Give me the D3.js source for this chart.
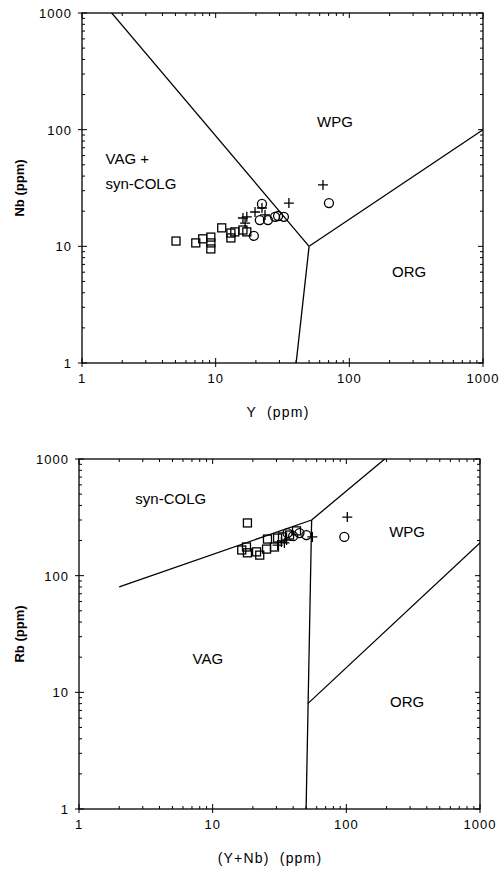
<!DOCTYPE html>
<html>
<head>
    <title>Nb-Y and Rb-(Y+Nb) discrimination diagrams</title>
    <script src="https://d3js.org/d3.v7.min.js"></script>
</head>
<body style="margin:0;background:#fff">
    <script>
        const [width, height] = [501, 874]

        // axis ticks (log decades)
        const decadeTicks = [1, 10, 100, 1000];

        // Nb vs Y diagram: samples [Y, Nb]
        const nbSquares = [[5.05, 11.1], [7.1, 10.7], [8.0, 11.6], [9.2, 12.0], [9.2, 10.7], [9.2, 9.5],
            [11.1, 14.4], [13.0, 13.0], [13.0, 11.8], [13.9, 13.3], [16.0, 13.8], [17.1, 13.3]];
        const nbCircles = [[19.3, 12.3], [22.2, 23.1], [21.4, 16.8], [24.6, 16.8], [27.8, 17.9],
            [29.3, 18.2], [32.4, 17.9], [70.4, 23.5]];
        const nbPluses = [[63.5, 33.6], [35.3, 23.5], [22.2, 21.3], [16.0, 17.5], [16.6, 15.8],
            [19.7, 19.7], [17.1, 17.9], [23.4, 18.6]];
        const nbBoundaries = [
            [[1, 2000], [50, 10]],
            [[50, 10], [1000, 100]],
            [[50, 10], [40, 1]]
        ];
        const nbFields = [
            {text: "WPG", x: 78, y: 114, anchor: "middle"},
            {text: "VAG +", x: 1.5, y: 55, anchor: "start"},
            {text: "syn-COLG", x: 1.5, y: 33.6, anchor: "start"},
            {text: "ORG", x: 280, y: 5.9, anchor: "middle"}
        ];

        // Rb vs (Y+Nb) diagram: samples [Y+Nb, Rb]
        const rbSquares = [[18.2, 283], [16.5, 166], [17.9, 176], [18.2, 157], [21.3, 160], [25.3, 169],
            [25.7, 206], [29.0, 176], [30.6, 210], [33.3, 215], [37.6, 223], [42.4, 242], [22.5, 150]];
        const rbCircles = [[36.3, 232], [44.6, 232], [50.3, 223], [96.6, 215], [40.0, 218]];
        const rbPluses = [[55.7, 215], [32.7, 194], [35.7, 202], [30.6, 183], [101.7, 318], [34.4, 191]];
        const rbBoundaries = [
            [[2, 80], [55, 300]],
            [[55, 300], [400, 2000]],
            [[55, 300], [50, 1]],
            [[51.5, 8], [2000, 400]]
        ];
        const rbFields = [
            {text: "syn-COLG", x: 4.86, y: 445, anchor: "middle"},
            {text: "WPG", x: 285, y: 232, anchor: "middle"},
            {text: "VAG", x: 9.2, y: 19, anchor: "middle"},
            {text: "ORG", x: 285, y: 8.1, anchor: "middle"}
        ];

        const svg = d3.select("body")
            .append("svg")
            .attr("width", width)
            .attr("height", height)
            .style("font-family", "'Liberation Sans', Arial, sans-serif");

        function drawPanel(opt) {
            const x = d3.scaleLog().domain([1, 1000]).range([opt.left, opt.right]);
            const y = d3.scaleLog().domain([1, 1000]).range([opt.bottom, opt.top]);
            const g = svg.append("g");

            const clipId = "clip-" + opt.id;
            g.append("clipPath").attr("id", clipId)
                .append("rect")
                .attr("x", opt.left).attr("y", opt.top)
                .attr("width", opt.right - opt.left).attr("height", opt.bottom - opt.top);

            // frame
            g.append("rect")
                .attr("x", opt.left).attr("y", opt.top)
                .attr("width", opt.right - opt.left).attr("height", opt.bottom - opt.top)
                .style("fill", "none").style("stroke", "#000").style("stroke-width", 1.3);

            // ticks on all four sides
            const allTicks = x.ticks();
            const isMajor = v => Math.abs(Math.log10(v) - Math.round(Math.log10(v))) < 1e-6;
            allTicks.forEach(v => {
                const len = isMajor(v) ? 5 : 3;
                g.append("line").attr("x1", x(v)).attr("x2", x(v))
                    .attr("y1", opt.bottom + (isMajor(v) ? 4 : 0)).attr("y2", opt.bottom - len);
                g.append("line").attr("x1", opt.left - (isMajor(v) ? 4 : 0)).attr("x2", opt.left + len)
                    .attr("y1", y(v)).attr("y2", y(v));
                g.append("line").attr("x1", opt.right).attr("x2", opt.right - len)
                    .attr("y1", y(v)).attr("y2", y(v));
                g.append("line").attr("x1", x(v)).attr("x2", x(v))
                    .attr("y1", opt.top).attr("y2", opt.top + len);
            });
            g.selectAll("line").style("stroke", "#000").style("stroke-width", 1);

            // tick labels
            g.selectAll(".xl").data(decadeTicks).enter().append("text")
                .attr("x", d => x(d)).attr("y", opt.bottom + 20)
                .attr("text-anchor", "middle")
                .style("font-size", "13px").style("letter-spacing", "1px")
                .text(d => d);
            g.selectAll(".yl").data(decadeTicks).enter().append("text")
                .attr("x", opt.left - 10).attr("y", d => y(d) + 5)
                .attr("text-anchor", "end")
                .style("font-size", "13px").style("letter-spacing", "1px")
                .text(d => d);

            // axis titles
            g.append("text")
                .attr("x", opt.xTitleX).attr("y", opt.bottom + 54)
                .attr("text-anchor", "middle")
                .style("font-size", "14px").style("letter-spacing", "1.2px")
                .style("white-space", "pre")
                .text(opt.xTitle);
            g.append("text")
                .attr("transform", `translate(24,${(opt.top + opt.bottom) / 2}) rotate(-90)`)
                .attr("text-anchor", "middle")
                .style("font-size", "13px").style("font-weight", "bold")
                .style("white-space", "pre")
                .text(opt.yTitle);

            // field boundaries
            const line = d3.line().x(d => x(d[0])).y(d => y(d[1]));
            g.append("g").attr("clip-path", `url(#${clipId})`)
                .selectAll("path").data(opt.boundaries).enter().append("path")
                .attr("d", line)
                .style("fill", "none").style("stroke", "#000").style("stroke-width", 1.3);

            // field names
            g.selectAll(".field").data(opt.fields).enter().append("text")
                .attr("x", d => x(d.x)).attr("y", d => y(d.y))
                .attr("text-anchor", d => d.anchor).attr("dominant-baseline", "middle")
                .style("font-size", "15px")
                .text(d => d.text);

            // samples
            const pts = g.append("g")
                .style("fill", "none").style("stroke", "#000").style("stroke-width", 1.3);
            pts.selectAll(".sq").data(opt.squares).enter().append("rect")
                .attr("x", d => x(d[0]) - 4).attr("y", d => y(d[1]) - 4)
                .attr("width", 8).attr("height", 8);
            pts.selectAll(".ci").data(opt.circles).enter().append("circle")
                .attr("cx", d => x(d[0])).attr("cy", d => y(d[1])).attr("r", 4.5);
            pts.selectAll(".pl").data(opt.pluses).enter().append("path")
                .attr("d", d => {
                    const px = x(d[0]), py = y(d[1]);
                    return `M${px - 5},${py}H${px + 5}M${px},${py - 5}V${py + 5}`;
                });
        }

        drawPanel({
            id: "nb", left: 82, right: 483, top: 13, bottom: 363,
            xTitle: "Y  (ppm)", xTitleX: 278, yTitle: "Nb (ppm)",
            boundaries: nbBoundaries, fields: nbFields,
            squares: nbSquares, circles: nbCircles, pluses: nbPluses
        });

        drawPanel({
            id: "rb", left: 79, right: 480, top: 459, bottom: 809,
            xTitle: "(Y+Nb)  (ppm)", xTitleX: 270, yTitle: "Rb (ppm)",
            boundaries: rbBoundaries, fields: rbFields,
            squares: rbSquares, circles: rbCircles, pluses: rbPluses
        });
    </script>
</body>
</html>
